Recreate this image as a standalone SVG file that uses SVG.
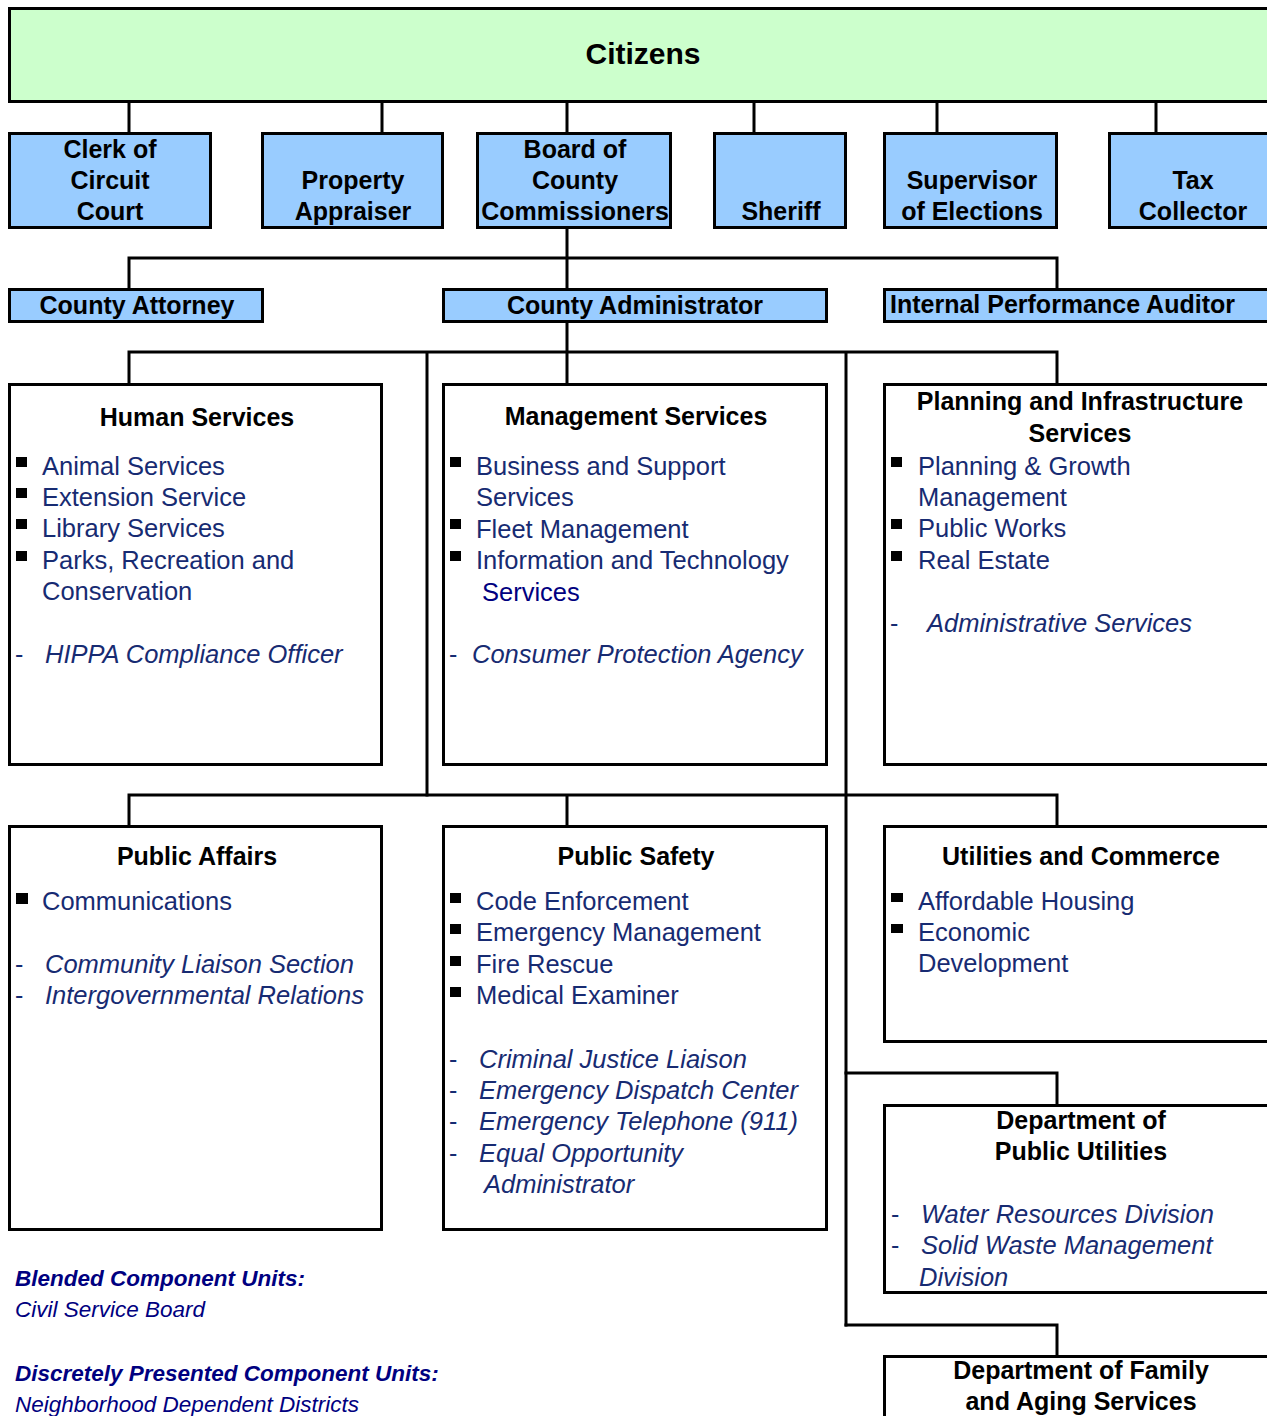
<svg xmlns="http://www.w3.org/2000/svg" width="1267" height="1416" viewBox="0 0 1267 1416">
<style>
.box{fill:#ffffff;stroke:#000;stroke-width:3}
.blue{fill:#99ccff;stroke:#000;stroke-width:3}
.green{fill:#ccffcc;stroke:#000;stroke-width:3}
.con{fill:none;stroke:#000;stroke-width:3;stroke-linecap:square}
text{font-family:"Liberation Sans",Arial,sans-serif}
.t{font-weight:bold;font-size:25px;fill:#000;text-anchor:middle}
.tl{font-weight:bold;font-size:25px;fill:#000}
.c{font-weight:bold;font-size:30px;fill:#000;text-anchor:middle}
.i{font-size:25.5px;fill:#172b72}
.d{font-size:25px;fill:#172b72}
.it{font-size:25.5px;fill:#172b72;font-style:italic}
.fb{font-size:22.5px;fill:#000080;font-style:italic;font-weight:bold}
.fi{font-size:22.5px;fill:#000080;font-style:italic}
.bul{fill:#000}
</style>
<g id="connectors">
<path class="con" d="M129,101V133M382,101V133M567,101V133M754,101V133M937,101V133M1156,101V133"/>
<path class="con" d="M567,228V289M129,289V258H1057V289"/>
<path class="con" d="M567,322V384M129,384V352H1057V384M427,352V795M846,352V1325"/>
<path class="con" d="M129,826V795H1057V826M567,795V826"/>
<path class="con" d="M846,1073H1057V1105M846,1325H1057V1356"/>
</g>
<g id="citizens">
<rect class="green" x="9.5" y="8.5" width="1275" height="93"/>
<text class="c" x="643" y="64">Citizens</text>
</g>
<g id="clerk">
<rect class="blue" x="9.5" y="133.5" width="201" height="94"/>
<text class="t" x="110" y="158">Clerk of</text>
<text class="t" x="110" y="189">Circuit</text>
<text class="t" x="110" y="220">Court</text>
</g>
<g id="property-appraiser">
<rect class="blue" x="262.5" y="133.5" width="180" height="94"/>
<text class="t" x="353" y="189">Property</text>
<text class="t" x="353" y="220">Appraiser</text>
</g>
<g id="board">
<rect class="blue" x="477.5" y="133.5" width="193" height="94"/>
<text class="t" x="575" y="158">Board of</text>
<text class="t" x="575" y="189">County</text>
<text class="t" x="575" y="220">Commissioners</text>
</g>
<g id="sheriff">
<rect class="blue" x="714.5" y="133.5" width="131" height="94"/>
<text class="t" x="781" y="220">Sheriff</text>
</g>
<g id="supervisor">
<rect class="blue" x="884.5" y="133.5" width="172" height="94"/>
<text class="t" x="972" y="189">Supervisor</text>
<text class="t" x="972" y="220">of Elections</text>
</g>
<g id="tax-collector">
<rect class="blue" x="1109.5" y="133.5" width="175" height="94"/>
<text class="t" x="1193" y="189">Tax</text>
<text class="t" x="1193" y="220">Collector</text>
</g>
<g id="county-attorney">
<rect class="blue" x="9.5" y="289.5" width="253" height="32"/>
<text class="t" x="137" y="314">County Attorney</text>
</g>
<g id="county-administrator">
<rect class="blue" x="443.5" y="289.5" width="383" height="32"/>
<text class="t" x="635" y="314">County Administrator</text>
</g>
<g id="internal-auditor">
<rect class="blue" x="884.5" y="289.5" width="400" height="32"/>
<text class="tl" x="890" y="313">Internal Performance Auditor</text>
</g>
<g id="human-services">
<rect class="box" x="9.5" y="384.5" width="372" height="380"/>
<text class="t" x="197" y="426">Human Services</text>
<rect class="bul" x="16" y="457" width="11" height="10"/>
<text class="i" x="42" y="475">Animal Services</text>
<rect class="bul" x="16" y="488" width="11" height="10"/>
<text class="i" x="42" y="506">Extension Service</text>
<rect class="bul" x="16" y="519" width="11" height="10"/>
<text class="i" x="42" y="537">Library Services</text>
<rect class="bul" x="16" y="551" width="11" height="10"/>
<text class="i" x="42" y="569">Parks, Recreation and</text>
<text class="i" x="42" y="600">Conservation</text>
<text class="d" x="15" y="663">-</text>
<text class="it" x="45" y="663">HIPPA Compliance Officer</text>
</g>
<g id="management-services">
<rect class="box" x="443.5" y="384.5" width="383" height="380"/>
<text class="t" x="636" y="425">Management Services</text>
<rect class="bul" x="450" y="457" width="11" height="10"/>
<text class="i" x="476" y="475">Business and Support</text>
<text class="i" x="476" y="506">Services</text>
<rect class="bul" x="450" y="519" width="11" height="10"/>
<text class="i" x="476" y="538">Fleet Management</text>
<rect class="bul" x="450" y="551" width="11" height="10"/>
<text class="i" x="476" y="569">Information and Technology</text>
<text class="i" x="482" y="601" style="fill:#000080">Services</text>
<text class="d" x="449" y="663">-</text>
<text class="it" x="472" y="663">Consumer Protection Agency</text>
</g>
<g id="planning-infrastructure">
<rect class="box" x="884.5" y="384.5" width="400" height="380"/>
<text class="t" x="1080" y="410">Planning and Infrastructure</text>
<text class="t" x="1080" y="442">Services</text>
<rect class="bul" x="891" y="457" width="11" height="10"/>
<text class="i" x="918" y="475">Planning &amp; Growth</text>
<text class="i" x="918" y="506">Management</text>
<rect class="bul" x="891" y="519" width="11" height="10"/>
<text class="i" x="918" y="537">Public Works</text>
<rect class="bul" x="891" y="551" width="11" height="10"/>
<text class="i" x="918" y="569">Real Estate</text>
<text class="d" x="890" y="632">-</text>
<text class="it" x="927" y="632">Administrative Services</text>
</g>
<g id="public-affairs">
<rect class="box" x="9.5" y="826.5" width="372" height="403"/>
<text class="t" x="197" y="865">Public Affairs</text>
<rect class="bul" x="16" y="893" width="12" height="11"/>
<text class="i" x="42" y="910">Communications</text>
<text class="d" x="15" y="973">-</text>
<text class="it" x="45" y="973">Community Liaison Section</text>
<text class="d" x="15" y="1004">-</text>
<text class="it" x="45" y="1004">Intergovernmental Relations</text>
</g>
<g id="public-safety">
<rect class="box" x="443.5" y="826.5" width="383" height="403"/>
<text class="t" x="636" y="865">Public Safety</text>
<rect class="bul" x="450" y="893" width="11" height="10"/>
<text class="i" x="476" y="910">Code Enforcement</text>
<rect class="bul" x="450" y="924" width="11" height="10"/>
<text class="i" x="476" y="941">Emergency Management</text>
<rect class="bul" x="450" y="956" width="11" height="10"/>
<text class="i" x="476" y="973">Fire Rescue</text>
<rect class="bul" x="450" y="987" width="11" height="10"/>
<text class="i" x="476" y="1004">Medical Examiner</text>
<text class="d" x="449" y="1068">-</text>
<text class="it" x="479" y="1068">Criminal Justice Liaison</text>
<text class="d" x="449" y="1099">-</text>
<text class="it" x="479" y="1099">Emergency Dispatch Center</text>
<text class="d" x="449" y="1130">-</text>
<text class="it" x="479" y="1130">Emergency Telephone (911)</text>
<text class="d" x="449" y="1162">-</text>
<text class="it" x="479" y="1162">Equal Opportunity</text>
<text class="it" x="484" y="1193">Administrator</text>
</g>
<g id="utilities-commerce">
<rect class="box" x="884.5" y="826.5" width="400" height="215"/>
<text class="t" x="1081" y="865">Utilities and Commerce</text>
<rect class="bul" x="891" y="893" width="12" height="9"/>
<text class="i" x="918" y="910">Affordable Housing</text>
<rect class="bul" x="891" y="924" width="12" height="9"/>
<text class="i" x="918" y="941">Economic</text>
<text class="i" x="918" y="972">Development</text>
</g>
<g id="public-utilities">
<rect class="box" x="884.5" y="1105.5" width="400" height="187"/>
<text class="t" x="1081" y="1129">Department of</text>
<text class="t" x="1081" y="1160">Public Utilities</text>
<text class="d" x="891" y="1223">-</text>
<text class="it" x="921" y="1223">Water Resources Division</text>
<text class="d" x="891" y="1254">-</text>
<text class="it" x="921" y="1254">Solid Waste Management</text>
<text class="it" x="919" y="1286">Division</text>
</g>
<g id="family-aging">
<rect class="box" x="884.5" y="1356.5" width="400" height="80"/>
<text class="t" x="1081" y="1379">Department of Family</text>
<text class="t" x="1081" y="1410">and Aging Services</text>
</g>
<g id="footer">
<text class="fb" x="15" y="1286">Blended Component Units:</text>
<text class="fi" x="15" y="1317">Civil Service Board</text>
<text class="fb" x="15" y="1381">Discretely Presented Component Units:</text>
<text class="fi" x="15" y="1412">Neighborhood Dependent Districts</text>
</g>
</svg>
